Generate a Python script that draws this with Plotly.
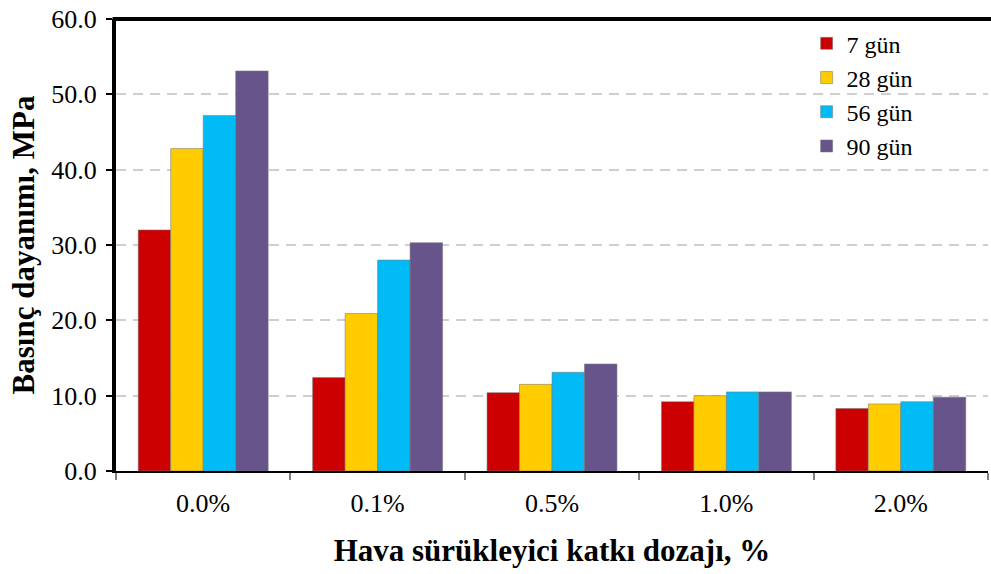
import plotly.graph_objects as go

# Air-entraining admixture dosage (x categories)
dosages = ["0.0%", "0.1%", "0.5%", "1.0%", "2.0%"]

# Compressive strength (MPa) by curing age
gun_7 = [32.0, 12.4, 10.4, 9.2, 8.3]
gun_28 = [42.8, 20.9, 11.5, 10.0, 8.9]
gun_56 = [47.2, 28.0, 13.1, 10.5, 9.2]
gun_90 = [53.1, 30.3, 14.2, 10.5, 9.8]

series = [
    ("7 gün", gun_7, "#CC0000"),
    ("28 gün", gun_28, "#FFCC00"),
    ("56 gün", gun_56, "#00BBF5"),
    ("90 gün", gun_90, "#66548A"),
]

FONT = "Liberation Serif"

fig = go.Figure()
for i, (name, vals, col) in enumerate(series):
    fig.add_trace(go.Bar(
        x=dosages, y=vals, name=name,
        legendgroup=f"g{i}",
        marker=dict(color=col, line=dict(color="rgba(120,120,120,0.55)", width=1)),
    ))

fig.update_layout(
    width=991, height=574,
    margin=dict(l=116, r=3, t=19, b=103),
    paper_bgcolor="white", plot_bgcolor="white",
    barmode="group", bargap=0.255, bargroupgap=0,
    font=dict(family=FONT, size=26, color="black"),
    legend=dict(
        x=0.792, y=0.995, xanchor="left", yanchor="top",
        bgcolor="rgba(0,0,0,0)", font=dict(size=24, family=FONT),
        tracegroupgap=0, itemwidth=30,
    ),
    xaxis=dict(
        showline=True, linecolor="black", linewidth=2,
        ticks="outside", tickson="boundaries", ticklen=7, tickcolor="#808080", tickwidth=2,
        tickfont=dict(size=26, family=FONT), ticklabelstandoff=8,
        title=dict(text="<b>Hava sürükleyici katkı dozajı, %</b>",
                   font=dict(size=31, family=FONT), standoff=22),
        showgrid=False,
    ),
    yaxis=dict(
        range=[0, 60], dtick=10, tickformat=".1f",
        showline=True, linecolor="black", linewidth=4,
        ticks="outside", ticklen=6, tickcolor="black", tickwidth=2,
        tickfont=dict(size=26, family=FONT), ticklabelstandoff=4,
        showgrid=True, gridcolor="#CFCFCF", gridwidth=2, griddash="10px,7px",
        zeroline=False,
        title=dict(text="<b>Basınç dayanımı, MPa</b>",
                   font=dict(size=31, family=FONT), standoff=8),
    ),
    shapes=[dict(type="line", xref="paper", yref="paper",
                 x0=-0.004, x1=1.01, y0=1, y1=1,
                 line=dict(color="black", width=4))],
)

fig.write_html("out.html")
